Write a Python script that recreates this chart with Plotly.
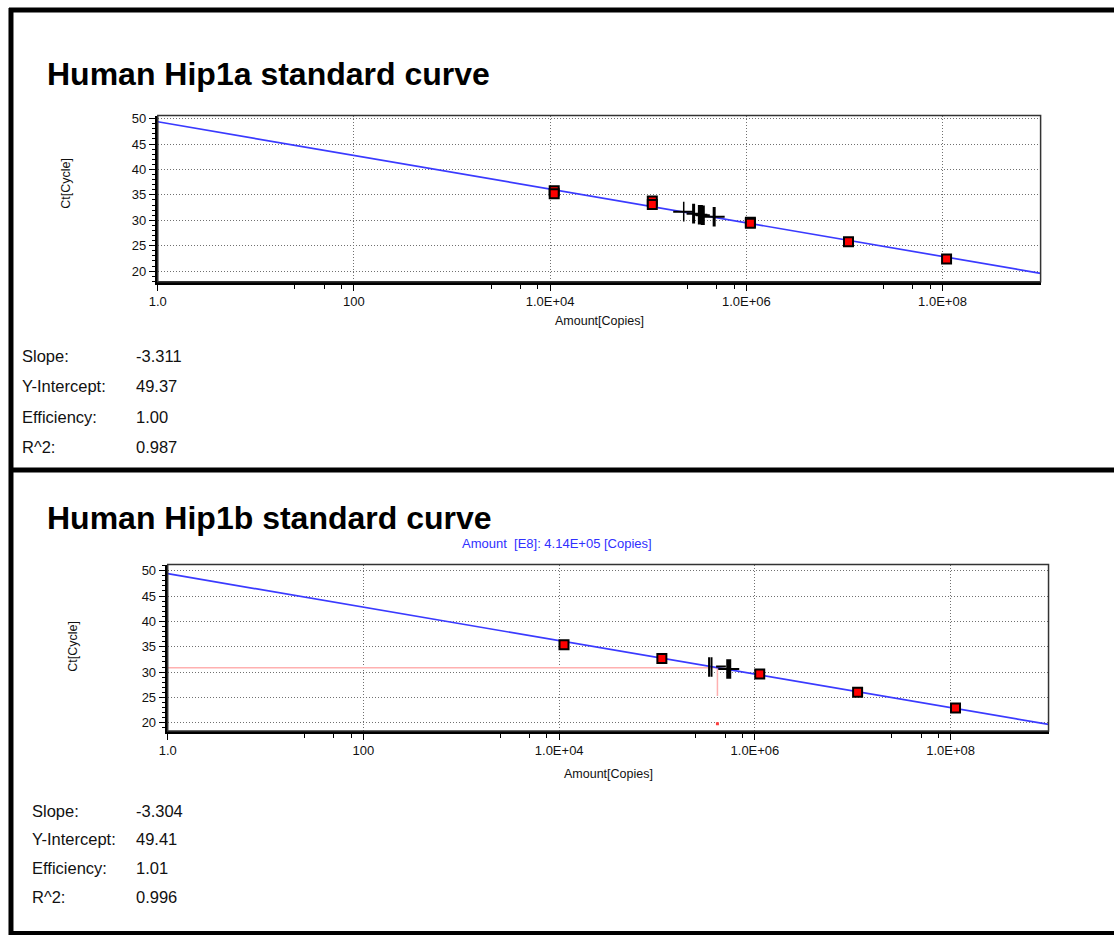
import plotly.graph_objects as go
import numpy as np

W, H = 1114, 935

# ---------------- data ----------------
titles = ["Human Hip1a standard curve", "Human Hip1b standard curve"]
slopes = [-3.311, -3.304]
intercepts = [49.37, 49.41]
efficiencies = ["1.00", "1.01"]
r2 = ["0.987", "0.996"]

# standards (red squares)
std_amount_a = [1.1e4, 1.1e4, 1.1e5, 1.1e5, 1.1e6, 1.1e6, 1.1e7, 1.1e8]
std_ct_a = [35.8, 35.2, 33.8, 33.1, 29.6, 29.4, 25.8, 22.4]
std_amount_b = [1.12e4, 1.12e5, 1.12e6, 1.12e7, 1.12e8]
std_ct_b = [35.4, 32.7, 29.6, 26.0, 22.9]

# unknown samples (black crosses)
unk_amount_a = [2.3e5, 2.9e5, 3.4e5, 3.6e5, 4.7e5]
unk_ct_a = [31.7, 31.3, 31.1, 31.0, 30.7]
unk_w_a = [1.5, 3, 5, 4, 3]
unk_amount_b = [3.4e5, 3.6e5, 5.4e5]
unk_ct_b = [31.0, 31.0, 30.6]
unk_w_b = [2, 2, 5]
dash_amount_b = [4.5e5]
dash_ct_b = [31.1]

# selected amount marker (bottom chart)
sel_amount = 4.14e5
sel_ct = 30.85
sel_drop_ct = 25.3
sel_dot_ct = 19.8
sel_label = "Amount  [E8]: 4.14E+05 [Copies]"

x_tickvals = [1, 100, 1e4, 1e6, 1e8]
x_ticktext = ["1.0", "100", "1.0E+04", "1.0E+06", "1.0E+08"]
x_minor = [25, 50, 75, 2500, 5000, 7500, 2.5e5, 5e5, 7.5e5, 2.5e7, 5e7, 7.5e7]
y_tickvals = [20, 25, 30, 35, 40, 45, 50]

# ---------------- layout geometry (page pixels) ----------------
panels = [
    dict(x0=150, x1=1040, y0=112, y1=279, yr=[17.9, 50.6],
         title_y=70, ylab=(58, 180), xlab=(595, 318),
         stats_x=(12, 127), stats_y=[354, 384, 415, 445]),
    dict(x0=160, x1=1048, y0=563, y1=730, yr=[18.4, 51.2],
         title_y=516, ylab=(65, 645), xlab=(604, 773),
         stats_x=(22, 127), stats_y=[810, 839, 868, 897]),
]

def px(x):
    return x / W

def py(y):
    return 1 - y / H

fig = go.Figure()
FONT = "Liberation Sans, Arial, sans-serif"
shapes = []
annotations = []

xfit = np.logspace(0, 9, 50)

def note(text, x, y, size, color="#111", xanchor="center", yanchor="middle", angle=0):
    annotations.append(dict(text=text, x=px(x), y=py(y), xref="paper", yref="paper",
                            xanchor=xanchor, yanchor=yanchor, textangle=angle,
                            showarrow=False, borderpad=0,
                            font=dict(family=FONT, size=size, color=color)))

for i, p in enumerate(panels):
    xa = "x" if i == 0 else "x2"
    ya = "y" if i == 0 else "y2"
    xname = "xaxis" if i == 0 else "xaxis2"
    yname = "yaxis" if i == 0 else "yaxis2"

    axis_common = dict(
        showline=True, linecolor="black", linewidth=3, mirror=False,
        ticks="outside", tickcolor="black", tickwidth=1,
        tickfont=dict(family=FONT, size=13, color="#111"),
        showgrid=True, gridcolor="#707070", griddash="1px,2px", gridwidth=1,
        zeroline=False, fixedrange=True,
    )
    fig.update_layout({
        xname: dict(axis_common, type="log", range=[0, 9],
                    domain=[px(p["x0"]), px(p["x1"])],
                    anchor=ya, tickmode="array", tickvals=x_tickvals,
                    ticktext=x_ticktext, ticklen=6,
                    minor=dict(tickmode="array", tickvals=x_minor, ticks="outside",
                               ticklen=4, tickcolor="black", showgrid=False)),
        yname: dict(axis_common, range=p["yr"],
                    domain=[py(p["y1"]), py(p["y0"])],
                    anchor=xa, tickmode="array", tickvals=y_tickvals, ticklen=6,
                    minor=dict(dtick=1, ticks="outside", ticklen=3,
                               tickcolor="black", showgrid=False)),
    })

    # thin frame (top/right)
    shapes.append(dict(type="rect", xref=f"{xa} domain", yref=f"{ya} domain",
                       x0=0, x1=1, y0=0, y1=1, line=dict(color="#333", width=1.5),
                       layer="above"))

    slope, icpt = slopes[i], intercepts[i]
    yfit = icpt + slope * np.log10(xfit)

    if i == 1:
        fig.add_trace(go.Scatter(x=[1, sel_amount, sel_amount], y=[sel_ct, sel_ct, sel_drop_ct],
                                 mode="lines", line=dict(color="#ffb0b0", width=1.5),
                                 xaxis=xa, yaxis=ya, showlegend=False, hoverinfo="skip"))
        fig.add_trace(go.Scatter(x=[sel_amount], y=[sel_dot_ct], mode="markers",
                                 marker=dict(color="#ff4040", size=3, symbol="square"),
                                 xaxis=xa, yaxis=ya, showlegend=False, hoverinfo="skip"))

    fig.add_trace(go.Scatter(x=xfit, y=yfit, mode="lines",
                             line=dict(color="#3a3aff", width=1.7),
                             xaxis=xa, yaxis=ya, showlegend=False, hoverinfo="skip"))

    sx = std_amount_a if i == 0 else std_amount_b
    sy = std_ct_a if i == 0 else std_ct_b
    fig.add_trace(go.Scatter(x=sx, y=sy, mode="markers",
                             marker=dict(symbol="square", size=9, color="#ff0000",
                                         line=dict(color="black", width=2)),
                             xaxis=xa, yaxis=ya, showlegend=False))

    ux = unk_amount_a if i == 0 else unk_amount_b
    uy = unk_ct_a if i == 0 else unk_ct_b
    uw = unk_w_a if i == 0 else unk_w_b
    fig.add_trace(go.Scatter(x=ux, y=uy, mode="markers",
                             marker=dict(symbol="line-ns", size=14,
                                         line=dict(color="black", width=uw)),
                             xaxis=xa, yaxis=ya, showlegend=False))
    hx = [ux[0], ux[-1]] if i == 0 else [unk_amount_b[2]]
    hy = [uy[0], uy[-1]] if i == 0 else [unk_ct_b[2]]
    fig.add_trace(go.Scatter(x=hx, y=hy, mode="markers",
                             marker=dict(symbol="line-ew", size=15,
                                         line=dict(color="black", width=2)),
                             xaxis=xa, yaxis=ya, showlegend=False))
    if i == 0:
        fig.add_trace(go.Scatter(x=ux[1:4], y=uy[1:4], mode="markers",
                                 marker=dict(symbol="line-ew", size=10,
                                             line=dict(color="black", width=2)),
                                 xaxis=xa, yaxis=ya, showlegend=False))
    else:
        fig.add_trace(go.Scatter(x=dash_amount_b, y=dash_ct_b, mode="markers",
                                 marker=dict(symbol="line-ew", size=7,
                                             line=dict(color="black", width=2)),
                                 xaxis=xa, yaxis=ya, showlegend=False))

    note(f"<b>{titles[i]}</b>", 37, p["title_y"], 32, color="black", xanchor="left")
    note("Ct[Cycle]", p["ylab"][0], p["ylab"][1], 12.5, angle=-90)
    note("Amount[Copies]", p["xlab"][0], p["xlab"][1], 12.5)

    labels = ["Slope:", "Y-Intercept:", "Efficiency:", "R^2:"]
    values = [f"{slope:.3f}", f"{icpt:.2f}", efficiencies[i], r2[i]]
    for lab, val, yy in zip(labels, values, p["stats_y"]):
        note(lab, p["stats_x"][0], yy, 16.5, xanchor="left")
        note(val, p["stats_x"][1], yy, 16.5, xanchor="left")

note(sel_label, 552, 542, 13, color="#3030ff")

# outer frame and separator (page coordinates)
for (x0, y0, x1, y1, w) in [(0, 6, 1114, 6, 5), (2, 4, 2, 935, 5),
                            (2, 468, 1114, 468, 5), (2, 933, 1114, 933, 4)]:
    shapes.append(dict(type="line", xref="paper", yref="paper",
                       x0=px(x0), x1=px(x1), y0=py(y0), y1=py(y1),
                       line=dict(color="black", width=w)))

fig.update_layout(width=W, height=H, margin=dict(l=0, r=0, t=0, b=0),
                  paper_bgcolor="white", plot_bgcolor="white",
                  shapes=shapes, annotations=annotations, showlegend=False)

fig.write_html("out.html", config={"displayModeBar": False},
               post_script="document.body.style.margin='0';document.body.style.overflow='hidden';")
